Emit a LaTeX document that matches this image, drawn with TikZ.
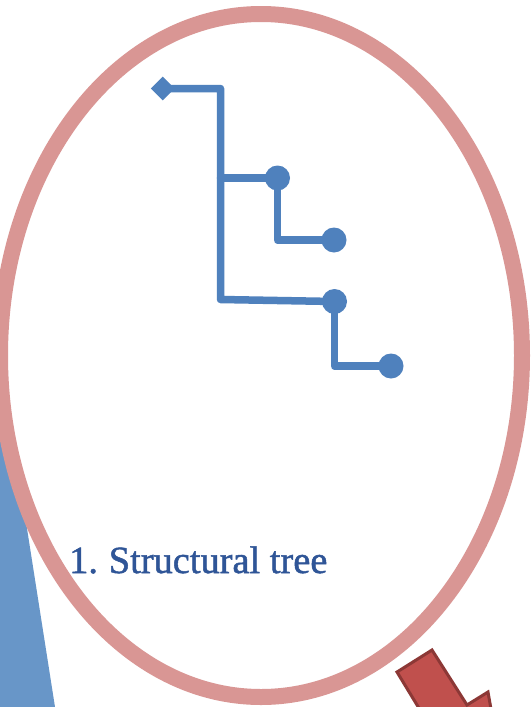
\documentclass[tikz,border=0pt]{standalone}
\usepackage{fontspec}
\setmainfont{Liberation Serif}
\newfontfamily\titlefont[FakeBold=1.3]{Liberation Serif}
\usetikzlibrary{shapes.geometric}
\definecolor{ringpink}{HTML}{D99694}
\definecolor{treeblue}{HTML}{4F81BD}
\definecolor{wedgeblue}{HTML}{6896C8}
\definecolor{titleblue}{HTML}{2F5597}
\definecolor{arrowred}{HTML}{C0504D}
\definecolor{arrowedge}{HTML}{8C3836}
\tikzset{
  treeline/.style={draw=treeblue, line width=7.5pt, line join=round, line cap=round},
  leaf/.style={circle, fill=treeblue, inner sep=0pt, minimum size=25pt},
  rootmark/.style={diamond, fill=treeblue, inner sep=0pt, minimum size=24pt},
}
\begin{document}
\begin{tikzpicture}[x=1pt,y=-1pt]
\useasboundingbox (0,0) rectangle (532,707);
% blue wedge behind the ring
\fill[wedgeblue] (-1,350) -- (55,707) -- (-1,707) -- cycle;
% ring
\draw[ringpink, line width=16pt, fill=white] (261,355.5) ellipse [x radius=261, y radius=341.5];
% tree nodes
\node[rootmark] (root) at (162.7,88.5) {};
\coordinate (j1) at (220.5,88.5);
\coordinate (j2) at (220.5,178);
\coordinate (j3) at (220.5,299.5);
\node[leaf] (c1) at (277.5,178) {};
\node[leaf] (c2) at (334,240) {};
\node[leaf] (c3) at (334.5,301.5) {};
\node[leaf] (c4) at (391,366) {};
% tree connectors
\draw[treeline] (root.center) -- (j1) -- (j3) -- (c3.center);
\draw[treeline] (j2) -- (c1.center);
\draw[treeline] (c1.center) |- (c2.center);
\draw[treeline] (c3.center) |- (c4.center);
% title
\node[anchor=base west, inner sep=0pt, text=titleblue, font=\titlefont\fontsize{38.4}{40}\selectfont] (title) at (69,573) {1.\hspace{-2pt} Structural tree};
% red arrow (partly outside)
\fill[arrowred, draw=arrowedge, line width=3pt, line join=miter]
  (397,672) -- (432,650) -- (467,705) -- (488,692) -- (500,760) -- (440,748) -- (431,728) -- cycle;
\end{tikzpicture}
\end{document}
